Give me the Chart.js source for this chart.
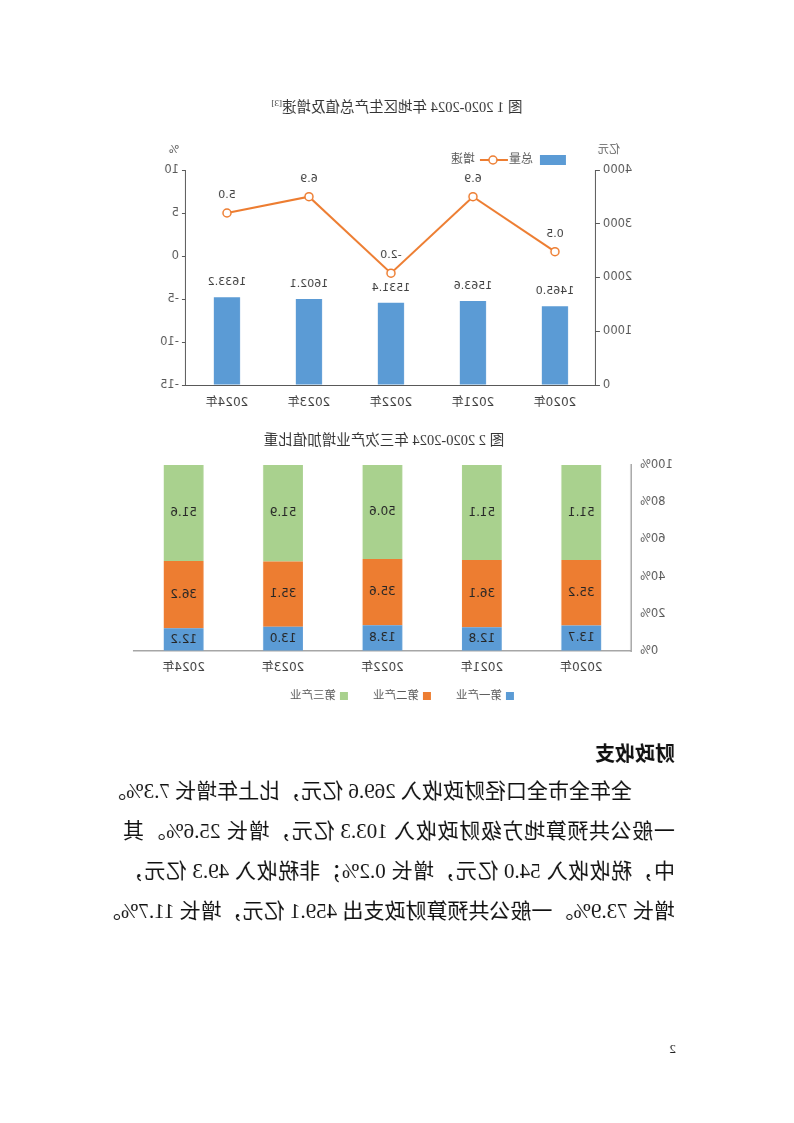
<!DOCTYPE html>
<html>
<head>
<meta charset="utf-8">
<script src="https://cdn.jsdelivr.net/npm/chart.js@4/dist/chart.umd.min.js"></script>
<style>
  html, body { margin: 0; padding: 0; background: #fff; overflow: hidden; }
  #page { position: relative; width: 794px; height: 1123px; transform: scaleX(-1); transform-origin: 50% 50%; }
  .abs { position: absolute; }
  .ctitle { font-family: "Liberation Serif", "Noto Sans CJK SC", serif; font-size: 14.5px; color: #333; white-space: nowrap; transform: translateX(-50%); }
  .ctitle sup { font-size: 9px; }
  h3 { margin: 0; font-family: "Noto Sans CJK SC", sans-serif; font-size: 20px; font-weight: bold; color: #111; }
  .body { font-family: "Liberation Serif", "Noto Sans CJK SC", serif; font-size: 21px; color: #111; line-height: 40px; }
  .body div { text-align: justify; text-align-last: justify; white-space: nowrap; }
</style>
</head>
<body>
<div id="page">
  <div class="abs ctitle" style="left:397px; top:95px;">图 1 2020-2024 年地区生产总值及增速<sup>[3]</sup></div>
  <canvas id="gdpChart" class="abs" width="520" height="285" style="left:130px; top:140px;"></canvas>

  <div class="abs ctitle" style="left:410px; top:428px;">图 2 2020-2024 年三次产业增加值比重</div>
  <canvas id="shareChart" class="abs" width="590" height="261" style="left:100px; top:449px;"></canvas>

  <h3 class="abs" style="left:119px; top:738px;">财政收支</h3>
  <div class="abs body" style="left:119px; top:771px; width:552px;">
    <div style="padding-left:43px;">全年全市全口径财政收入 269.6 亿元，比上年增长 7.3%。</div>
    <div>一般公共预算地方级财政收入 103.3 亿元，增长 25.6%。其</div>
    <div>中，税收收入 54.0 亿元，增长 0.2%；非税收入 49.3 亿元，</div>
    <div>增长 73.9%。一般公共预算财政支出 459.1 亿元，增长 11.7%。</div>
  </div>
  <div class="abs" style="left:118px; top:1041px; font-family:'Liberation Serif'; font-size:13px; color:#222;">2</div>
</div>

<script>
// chart data
const years = ['2020年', '2021年', '2022年', '2023年', '2024年'];
const gdpTotal = [1465.0, 1563.6, 1531.4, 1602.1, 1633.2];
const gdpGrowth = [0.5, 6.9, -2.0, 6.9, 5.0];

const industryNames = ['第一产业', '第二产业', '第三产业'];
const primaryShare = [13.7, 12.8, 13.8, 13.0, 12.2];
const secondaryShare = [35.2, 36.1, 35.6, 35.1, 36.2];
const tertiaryShare = [51.1, 51.1, 50.6, 51.9, 51.6];

const BLUE = '#5B9BD5', ORANGE = '#ED7D31', GREEN = '#A9D18E';
const FONT = '"DejaVu Sans", "Noto Sans CJK SC", sans-serif';
const AXIS = '#595959';

Chart.defaults.font.family = FONT;
Chart.defaults.color = AXIS;

// value labels + axis units + legend for chart 1
const gdpDecor = {
    id: 'gdpDecor',
    afterDatasetsDraw(chart) {
        const c = chart.ctx;
        c.save();
        c.font = '11px ' + FONT;
        c.fillStyle = '#404040';
        c.textAlign = 'center';
        c.textBaseline = 'middle';
        chart.data.datasets.forEach((ds, di) => {
            const meta = chart.getDatasetMeta(di);
            meta.data.forEach((el, i) => {
                const off = ds.type === 'line' ? 18 : 15;
                c.fillText(ds.data[i].toFixed(1), el.x, el.y - off);
            });
        });
        // axis units
        c.font = '11px ' + FONT;
        c.fillStyle = AXIS;
        c.fillText('亿元', chart.scales.y1.right - 13, 10);
        c.fillText('%', chart.scales.y.left + 12, 10);
        // legend
        const L = chart.chartArea.left;
        c.fillStyle = BLUE;
        c.fillRect(L + 30, 15, 26, 10);
        c.fillStyle = AXIS;
        c.textAlign = 'left';
        c.font = '12px ' + FONT;
        c.fillText(chart.data.datasets[0].label, L + 63, 20);
        c.strokeStyle = ORANGE;
        c.lineWidth = 2;
        c.beginPath();
        c.moveTo(L + 88, 20);
        c.lineTo(L + 116, 20);
        c.stroke();
        c.beginPath();
        c.arc(L + 103, 20, 4, 0, Math.PI * 2);
        c.fillStyle = '#fff';
        c.fill();
        c.lineWidth = 1.5;
        c.stroke();
        c.fillStyle = AXIS;
        c.fillText(chart.data.datasets[1].label, L + 121, 20);
        c.restore();
    }
};

new Chart(document.getElementById('gdpChart'), {
    data: {
        labels: years,
        datasets: [{
            type: 'bar',
            label: '总量',
            data: gdpTotal,
            backgroundColor: BLUE,
            yAxisID: 'y1',
            barPercentage: 0.32,
            categoryPercentage: 1,
            order: 2
        }, {
            type: 'line',
            label: '增速',
            data: gdpGrowth,
            borderColor: ORANGE,
            borderWidth: 2,
            pointRadius: 4,
            pointBorderWidth: 1.5,
            pointBackgroundColor: '#fff',
            pointBorderColor: ORANGE,
            yAxisID: 'y',
            order: 1
        }]
    },
    options: {
        responsive: false,
        animation: false,
        layout: { padding: { top: 30, left: 0, right: 0, bottom: 0 } },
        plugins: { legend: { display: false }, tooltip: { enabled: false } },
        scales: {
            x: {
                grid: { drawOnChartArea: false, drawTicks: false },
                border: { display: true, color: AXIS },
                ticks: { padding: 11, font: { size: 12 }, color: '#404040' },
                afterFit(s) { s.height = 40; }
            },
            y1: {
                position: 'left',
                min: 0, max: 4000,
                ticks: { stepSize: 1000, padding: 3, font: { size: 11.5 }, callback: v => String(v) },
                grid: { drawOnChartArea: false, drawTicks: true, tickLength: 4, color: AXIS },
                border: { display: true, color: AXIS },
                afterFit(s) { s.width = 68; }
            },
            y: {
                position: 'right',
                min: -15, max: 10,
                ticks: { stepSize: 5, padding: 3, font: { size: 11.5 } },
                grid: { drawOnChartArea: false, drawTicks: true, tickLength: 4, color: AXIS },
                border: { display: true, color: AXIS },
                afterFit(s) { s.width = 42; }
            }
        }
    },
    plugins: [gdpDecor]
});

// segment labels + legend for chart 2
const shareDecor = {
    id: 'shareDecor',
    afterDatasetsDraw(chart) {
        const c = chart.ctx;
        c.save();
        c.font = '12px ' + FONT;
        c.fillStyle = '#262626';
        c.textAlign = 'center';
        c.textBaseline = 'middle';
        chart.data.datasets.forEach((ds, di) => {
            chart.getDatasetMeta(di).data.forEach((el, i) => {
                c.fillText(ds.data[i].toFixed(1), el.x, (el.y + el.base) / 2);
            });
        });
        // legend
        c.font = '11.5px ' + FONT;
        c.textAlign = 'left';
        const items = chart.data.datasets.map(ds => ({ label: ds.label, color: ds.backgroundColor }));
        const widths = items.map(it => 12 + c.measureText(it.label).width);
        const total = widths.reduce((a, b) => a + b, 0) + 25 * (items.length - 1);
        let x = chart.width / 2 - 3 - total / 2;
        const y = chart.chartArea.bottom + 45;
        items.forEach((it, i) => {
            c.fillStyle = it.color;
            c.fillRect(x, y - 4, 8, 8);
            c.fillStyle = AXIS;
            c.fillText(it.label, x + 12, y);
            x += widths[i] + 25;
        });
        c.restore();
    }
};

const shareSeries = [primaryShare, secondaryShare, tertiaryShare];
const shareColors = [BLUE, ORANGE, GREEN];

new Chart(document.getElementById('shareChart'), {
    type: 'bar',
    data: {
        labels: years,
        datasets: industryNames.map((name, i) => ({
            label: name,
            data: shareSeries[i],
            backgroundColor: shareColors[i],
            barPercentage: 0.4,
            categoryPercentage: 1
        }))
    },
    options: {
        responsive: false,
        animation: false,
        layout: { padding: { top: 3, left: 0, right: 30, bottom: 0 } },
        plugins: { legend: { display: false }, tooltip: { enabled: false } },
        scales: {
            x: {
                stacked: true,
                grid: { drawOnChartArea: false, drawTicks: false },
                border: { display: true, color: '#A6A6A6', width: 1.5 },
                ticks: { padding: 10, font: { size: 12 }, color: '#404040' },
                afterFit(s) { s.height = 59; }
            },
            y: {
                stacked: true,
                min: 0, max: 100,
                ticks: { stepSize: 20, padding: 9, font: { size: 11.5 }, callback: v => v + '%' },
                grid: { drawOnChartArea: false, drawTicks: false },
                border: { display: true, color: '#A6A6A6', width: 1.5 },
                afterFit(s) { s.width = 63; }
            }
        }
    },
    plugins: [shareDecor]
});
</script>
</body>
</html>
